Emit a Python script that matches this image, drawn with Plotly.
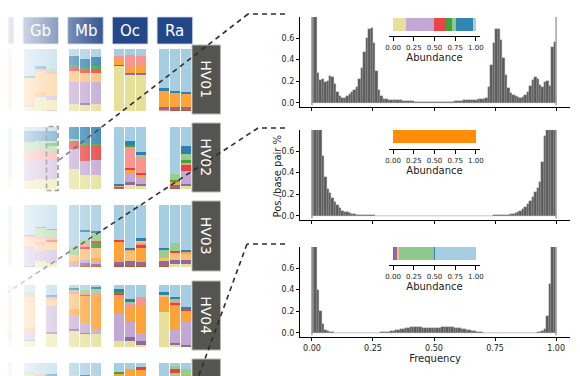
import plotly.graph_objects as go

# reference canvas size; the page adds an 8px body margin, so the figure is drawn
# 8px smaller and every layout pixel is shifted by that offset
W, H = 580, 376
OFF = 8
FW, FH = W - OFF, H - OFF

# ---------------- colours (category keys) ----------------
COLORS = {
    'LB': '#a6cee3', 'B': '#2f80b2', 'LG': '#98cd8c', 'G': '#3ea33a',
    'PK': '#f9948f', 'R': '#e8403f', 'LO': '#fdbe73', 'O': '#fda33a',
    'LV': '#c3a8d3', 'P': '#8e6b9f', 'Y': '#e6e09a', 'BR': '#b65a28',
}
INSET_COLORS = dict(COLORS, O='#ff8c0a', LG='#8fc88c', R='#e84646', B='#2f86b0')

GROUP_LABELS = ['', 'Gb', 'Mb', 'Oc', 'Ra']
ROW_LABELS = ['HV01', 'HV02', 'HV03', 'HV04', 'HV05']

# ---------------- stacked abundance bars (bottom -> top), 5 groups x 3 samples ----------------
HV01 = [
    [[('Y', .07), ('LV', .03), ('LO', .68), ('B', .02), ('LB', .20)],
     [('Y', .08), ('LV', .04), ('LO', .66), ('LB', .22)],
     [('Y', .06), ('LV', .05), ('LO', .64), ('PK', .02), ('LB', .23)]],
    [[('Y', .07), ('LV', .03), ('LO', .44), ('B', .02), ('LB', .44)],
     [('Y', .22), ('LV', .05), ('O', .03), ('LO', .35), ('PK', .04), ('B', .03), ('LB', .28)],
     [('PK', .02), ('Y', .16), ('LV', .06), ('LO', .36), ('PK', .03), ('LG', .04), ('LB', .33)]],
    [[('Y', .11), ('LV', .36), ('LO', .18), ('R', .06), ('G', .03), ('B', .15), ('LB', .11)],
     [('Y', .11), ('P', .02), ('LV', .33), ('LO', .16), ('R', .04), ('G', .04), ('B', .14), ('LB', .16)],
     [('Y', .11), ('LV', .35), ('LO', .16), ('R', .06), ('G', .05), ('B', .14), ('LB', .13)]],
    [[('Y', .73), ('BR', .02), ('O', .07), ('PK', .07), ('LB', .11)],
     [('Y', .59), ('P', .02), ('O', .10), ('PK', .20), ('LB', .09)],
     [('Y', .59), ('P', .02), ('O', .11), ('PK', .16), ('LB', .12)]],
    [[('PK', .02), ('P', .04), ('O', .27), ('B', .04), ('LB', .63)],
     [('BR', .02), ('P', .05), ('O', .22), ('B', .04), ('LB', .67)],
     [('BR', .02), ('P', .05), ('O', .20), ('B', .04), ('LB', .69)]],
]
HV02 = [
    [[('Y', .20), ('LV', .40), ('PK', .10), ('LG', .05), ('LB', .25)],
     [('Y', .18), ('LV', .42), ('PK', .08), ('LG', .06), ('LB', .26)],
     [('Y', .20), ('LV', .38), ('PK', .10), ('LG', .07), ('LB', .25)]],
    [[('Y', .12), ('LV', .33), ('PK', .13), ('LG', .16), ('B', .18), ('LB', .06)],
     [('Y', .16), ('LV', .33), ('PK', .15), ('LG', .14), ('B', .16), ('LB', .06)],
     [('Y', .16), ('LV', .32), ('PK', .14), ('LG', .08), ('G', .04), ('LG', .04), ('B', .16), ('LB', .06)]],
    [[('Y', .32), ('LV', .33), ('R', .12), ('LG', .04), ('B', .19)],
     [('Y', .22), ('LV', .23), ('R', .25), ('G', .04), ('B', .26)],
     [('Y', .22), ('LV', .24), ('R', .23), ('G', .04), ('B', .27)]],
    [[('P', .04), ('O', .02), ('B', .02), ('LB', .92)],
     [('Y', .07), ('P', .04), ('LV', .15), ('O', .04), ('R', .04), ('PK', .34), ('G', .03), ('B', .06), ('LB', .23)],
     [('Y', .05), ('P', .03), ('LV', .10), ('O', .04), ('R', .04), ('PK', .26), ('LG', .03), ('B', .04), ('LB', .41)]],
    [None,
     [('BR', .02), ('P', .05), ('O', .05), ('G', .03), ('LG', .10), ('LB', .75)],
     [('Y', .05), ('P', .03), ('LV', .21), ('R', .10), ('PK', .03), ('G', .05), ('LG', .10), ('B', .12), ('LB', .31)]],
]
HV03 = [
    [[('Y', .05), ('LV', .20), ('LO', .30), ('LB', .45)],
     [('Y', .06), ('LV', .18), ('LO', .30), ('PK', .02), ('LB', .44)],
     [('Y', .05), ('LV', .22), ('LO', .28), ('LB', .45)]],
    [[('P', .02), ('LV', .32), ('LO', .14), ('PK', .02), ('B', .02), ('LB', .48)],
     [('Y', .09), ('LV', .17), ('LO', .10), ('PK', .04), ('LO', .06), ('PK', .03), ('LG', .14), ('B', .02), ('LB', .35)],
     [('Y', .07), ('LV', .20), ('LO', .14), ('R', .03), ('PK', .04), ('LG', .12), ('B', .02), ('LB', .38)]],
    [[('LV', .06), ('O', .04), ('LO', .10), ('LG', .13), ('LB', .67)],
     [('BR', .02), ('P', .04), ('LV', .06), ('LO', .18), ('R', .03), ('PK', .04), ('LG', .06), ('LB', .15), ('B', .02), ('LB', .40)],
     [('BR', .02), ('P', .03), ('LV', .05), ('O', .04), ('LO', .16), ('G', .08), ('R', .04), ('LG', .14), ('B', .02), ('LB', .42)]],
    [[('BR', .03), ('P', .05), ('O', .33), ('R', .02), ('LB', .57)],
     [('BR', .02), ('P', .07), ('LO', .18), ('O', .02), ('B', .02), ('LB', .69)],
     [('BR', .02), ('P', .06), ('O', .23), ('R', .04), ('PK', .05), ('LO', .03), ('B', .03), ('LB', .54)]],
    [[('BR', .02), ('P', .07), ('LO', .05), ('LG', .14), ('B', .02), ('LB', .70)],
     [('Y', .05), ('P', .06), ('LO', .12), ('R', .03), ('LG', .12), ('LB', .62)],
     [('Y', .05), ('P', .07), ('LO', .10), ('O', .03), ('B', .03), ('LB', .72)]],
]
HV04 = [
    [[('Y', .10), ('LV', .15), ('LO', .60), ('LB', .15)],
     [('Y', .08), ('LV', .17), ('LO', .58), ('LB', .17)],
     [('Y', .10), ('LV', .14), ('LO', .60), ('LB', .16)]],
    [[('Y', .10), ('P', .02), ('LV', .15), ('O', .03), ('LO', .52), ('PK', .02), ('LG', .04), ('LB', .12)],
     None,
     [('Y', .22), ('P', .02), ('LV', .42), ('LO', .13), ('PK', .02), ('B', .03), ('LB', .16)]],
    [[('Y', .27), ('P', .02), ('LV', .22), ('O', .11), ('LO', .24), ('PK', .03), ('LG', .03), ('B', .03), ('LB', .05)],
     [('Y', .21), ('P', .02), ('LV', .16), ('O', .44), ('R', .02), ('PK', .02), ('LG', .05), ('LB', .08)],
     [('Y', .21), ('LV', .08), ('O', .54), ('PK', .03), ('LG', .08), ('B', .02), ('LB', .04)]],
    [[('Y', .10), ('LV', .44), ('O', .28), ('PK', .02), ('R', .02), ('G', .04), ('B', .03), ('LB', .07)],
     [('Y', .09), ('P', .07), ('LV', .24), ('O', .24), ('PK', .06), ('LG', .03), ('B', .04), ('LB', .23)],
     [('Y', .03), ('P', .06), ('LV', .13), ('O', .46), ('PK', .13), ('LB', .19)]],
    [[('Y', .56), ('O', .25), ('LO', .03), ('B', .04), ('LB', .12)],
     [('Y', .04), ('P', .02), ('LV', .21), ('O', .42), ('R', .03), ('PK', .03), ('LG', .03), ('B', .02), ('LB', .20)],
     [('P', .03), ('LV', .37), ('O', .19), ('R', .02), ('B', .04), ('LB', .35)]],
]
HV05 = [
    [[('Y', .30), ('LV', .30), ('LO', .20), ('LB', .20)],
     [('Y', .30), ('LV', .30), ('LO', .20), ('LB', .20)],
     [('Y', .30), ('LV', .30), ('LO', .20), ('LB', .20)]],
    [[('Y', .30), ('LV', .30), ('LO', .20), ('LG', .06), ('LB', .14)],
     [('Y', .30), ('LV', .30), ('LO', .20), ('PK', .03), ('LB', .17)],
     [('Y', .30), ('LV', .30), ('LO', .20), ('B', .03), ('LB', .17)]],
    [[('Y', .30), ('LV', .30), ('LO', .20), ('LB', .20)],
     [('Y', .30), ('LV', .30), ('LO', .18), ('B', .02), ('LB', .20)],
     [('Y', .30), ('LV', .30), ('LO', .20), ('LB', .20)]],
    [[('Y', .30), ('LV', .20), ('O', .33), ('G', .03), ('LB', .14)],
     [('Y', .30), ('LV', .20), ('O', .40), ('LB', .10)],
     [('Y', .30), ('LV', .20), ('O', .40), ('R', .03), ('LB', .07)]],
    [[('Y', .30), ('LV', .20), ('O', .20), ('B', .03), ('LB', .27)],
     [('Y', .30), ('LV', .20), ('O', .20), ('LG', .05), ('R', .07), ('LG', .04), ('LB', .04)],
     [('Y', .30), ('LV', .30), ('O', .20), ('LG', .10), ('LB', .10)]],
]
ROW_DATA = [HV01, HV02, HV03, HV04, HV05]

# ---------------- allele-frequency histograms (100 bins on [0,1]) ----------------
HV01_FREQ = [0.95, 0.90, 0.28, 0.21, 0.22, 0.19, 0.20, 0.25, 0.24, 0.18,
             0.10, 0.06, 0.05, 0.05, 0.06, 0.08, 0.10, 0.12, 0.15, 0.22,
             0.32, 0.47, 0.60, 0.68, 0.69, 0.55, 0.30, 0.12, 0.06, 0.04,
             0.035, 0.03, 0.03, 0.03, 0.03, 0.028, 0.025, 0.022, 0.02, 0.02,
             0.018, 0.015, 0.012, 0.01, 0.01, 0.008, 0.007, 0.006, 0.005, 0.005,
             0.005, 0.005, 0.006, 0.007, 0.008, 0.01, 0.01, 0.012, 0.015, 0.018,
             0.02, 0.022, 0.025, 0.025, 0.028, 0.03, 0.03, 0.03, 0.035, 0.04,
             0.04, 0.05, 0.15, 0.35, 0.55, 0.68, 0.68, 0.58, 0.42, 0.26,
             0.14, 0.09, 0.07, 0.06, 0.055, 0.05, 0.055, 0.07, 0.10, 0.16,
             0.21, 0.24, 0.22, 0.17, 0.15, 0.19, 0.20, 0.16, 0.52, 0.56]
HV02_FREQ = [0.95, 0.95, 0.95, 0.90, 0.55, 0.36, 0.25, 0.21, 0.17, 0.13,
             0.10, 0.07, 0.05, 0.04, 0.035, 0.025, 0.02, 0.015, 0.012, 0.01,
             0.01, 0.008, 0.007, 0.006, 0.005, 0.005, 0.004, 0.004, 0.003, 0.003,
             0.002, 0.002, 0.002, 0.002, 0.002, 0.002, 0.002, 0.002, 0.002, 0.002,
             0.002, 0.002, 0.001, 0.002, 0.002, 0.001, 0.002, 0.002, 0.001, 0.002,
             0.002, 0.001, 0.002, 0.002, 0.001, 0.002, 0.002, 0.002, 0.002, 0.002,
             0.002, 0.002, 0.002, 0.002, 0.002, 0.002, 0.002, 0.002, 0.003, 0.003,
             0.003, 0.003, 0.004, 0.004, 0.005, 0.005, 0.006, 0.007, 0.008, 0.01,
             0.012, 0.015, 0.02, 0.025, 0.035, 0.05, 0.065, 0.08, 0.11, 0.14,
             0.18, 0.22, 0.26, 0.31, 0.50, 0.74, 0.95, 0.95, 0.95, 0.95]
HV04_FREQ = [0.95, 0.90, 0.40, 0.20, 0.08, 0.03, 0.015, 0.01, 0.006, 0.004,
             0.003, 0.003, 0.003, 0.003, 0.003, 0.003, 0.003, 0.003, 0.003, 0.003,
             0.003, 0.003, 0.003, 0.003, 0.003, 0.003, 0.003, 0.004, 0.006, 0.008,
             0.01, 0.013, 0.016, 0.02, 0.025, 0.03, 0.035, 0.04, 0.045, 0.05,
             0.052, 0.055, 0.055, 0.053, 0.055, 0.05, 0.05, 0.048, 0.05, 0.046,
             0.044, 0.046, 0.05, 0.052, 0.055, 0.052, 0.055, 0.055, 0.05, 0.05,
             0.046, 0.04, 0.035, 0.03, 0.025, 0.02, 0.015, 0.012, 0.008, 0.005,
             0.003, 0.003, 0.003, 0.003, 0.003, 0.003, 0.003, 0.003, 0.003, 0.003,
             0.003, 0.003, 0.003, 0.003, 0.003, 0.003, 0.003, 0.003, 0.003, 0.003,
             0.003, 0.004, 0.005, 0.01, 0.02, 0.04, 0.16, 0.45, 0.95, 0.95]
FREQ_BIN_WIDTH = 0.01
FREQ_TICKS = [0, 0.25, 0.5, 0.75, 1.0]
PCT_TICKS = [0.0, 0.2, 0.4, 0.6]

# ---------------- inset abundance bars ----------------
HV01_ABUND = [('Y', .155), ('LV', .343), ('R', .139), ('G', .069), ('LG', .049), ('B', .216), ('LB', .029)]
HV02_ABUND = [('O', 1.0)]
HV04_ABUND = [('BR', .012), ('P', .037), ('LO', .025), ('LG', .42), ('B', .016), ('LB', .49)]
ABUND_TICKS = [0, 0.25, 0.5, 0.75, 1.0]

# ---------------- layout geometry (reference pixels) ----------------
FONT = 'DejaVu Sans'
GRID_R = 192
GROUP_LEFT0, GROUP_STEP = 23 - 44.7, 44.7
ROW_TOPS = [49, 127, 205, 285, 363]
ROW_H = 62
BOX_SPANS = [(45, 114), (123, 192), (201, 271), (281, 350), (359, 420)]
HIST_TOPS = [17, 130, 247]
HIST_H = 90
INSET_SPANS = [(18, 36), (130, 149), (247, 265)]


def px_x(x):
    return (x - OFF) / FW


def px_y(y):
    return 1 - (y - OFF) / FH


def ydom(top, bottom):
    return [max(0.0, px_y(bottom)), min(1.0, px_y(top))]


def xdom(left, right):
    return [max(0.0, px_x(left)), min(1.0, px_x(right))]


fig = go.Figure()
layout = dict(width=FW, height=FH, margin=dict(l=0, r=0, t=0, b=0, autoexpand=False),
              paper_bgcolor='white', plot_bgcolor='rgba(0,0,0,0)',
              showlegend=False, barmode='overlay', bargap=0,
              font=dict(family=FONT, color='#222'))

# left grid x axis (1 unit = 1 reference px)
layout['xaxis'] = dict(domain=xdom(OFF, GRID_R), range=[OFF, GRID_R], visible=False, fixedrange=True)

for r, rowdata in enumerate(ROW_DATA):
    ykey = 'yaxis' if r == 0 else f'yaxis{r + 1}'
    yref = 'y' if r == 0 else f'y{r + 1}'
    top = ROW_TOPS[r]
    bottom = top + ROW_H
    vis_bottom = min(bottom, H)
    layout[ykey] = dict(domain=ydom(top, vis_bottom),
                        range=[(bottom - vis_bottom) / ROW_H, 1], visible=False,
                        anchor='x', fixedrange=True)
    xs, bases, hs, cols = [], [], [], []
    for g, group in enumerate(rowdata):
        left = GROUP_LEFT0 + g * GROUP_STEP
        for b, bar in enumerate(group):
            if bar is None:
                continue
            total = sum(f for _, f in bar)
            cum = 0.0
            for key, f in bar:
                xs.append(left + 6.5 + 11 * b)
                bases.append(cum / total)
                hs.append(f / total)
                cols.append(COLORS[key])
                cum += f
    fig.add_trace(go.Bar(x=xs, y=hs, base=bases, width=10.2,
                         marker=dict(color=cols, line=dict(width=0)),
                         xaxis='x', yaxis=yref, hoverinfo='skip'))

# histograms
bin_centers = [(i + 0.5) * FREQ_BIN_WIDTH for i in range(len(HV01_FREQ))]
for p, freq in enumerate([HV01_FREQ, HV02_FREQ, HV04_FREQ]):
    xk, yk = f'xaxis{p + 2}', f'yaxis{p + 6}'
    xr, yr = f'x{p + 2}', f'y{p + 6}'
    top = HIST_TOPS[p]
    layout[xk] = dict(domain=xdom(300, 570), range=[-0.049, 1.057], anchor=yr,
                      showline=True, linecolor='black', linewidth=1.2,
                      ticks='outside', ticklen=3, tickwidth=1.2, tickcolor='black',
                      tickvals=FREQ_TICKS, ticktext=[f'{v:.2f}' for v in FREQ_TICKS],
                      showticklabels=(p == 2), tickfont=dict(size=8, color='#222'),
                      showgrid=False, zeroline=False, fixedrange=True)
    if p == 2:
        layout[xk]['title'] = dict(text='Frequency', font=dict(size=10, color='#222'), standoff=3)
    layout[yk] = dict(domain=ydom(top, top + HIST_H), range=[-0.037, 0.794], anchor=xr,
                      showline=True, linecolor='black', linewidth=1.2,
                      ticks='outside', ticklen=3, tickwidth=1.2, tickcolor='black',
                      tickvals=PCT_TICKS, ticktext=[f'{v:.1f}' for v in PCT_TICKS],
                      tickfont=dict(size=8, color='#222'),
                      showgrid=False, zeroline=False, fixedrange=True)
    fig.add_trace(go.Bar(x=bin_centers, y=freq, width=FREQ_BIN_WIDTH,
                         marker=dict(color='#5a5a5a', line=dict(width=0.35, color='#a0a0a0')),
                         xaxis=xr, yaxis=yr, hoverinfo='skip'))

# insets
for p, ab in enumerate([HV01_ABUND, HV02_ABUND, HV04_ABUND]):
    xk, yk = f'xaxis{p + 5}', f'yaxis{p + 9}'
    xr, yr = f'x{p + 5}', f'y{p + 9}'
    t, a = INSET_SPANS[p]
    layout[xk] = dict(domain=xdom(389, 480), range=[-0.05, 1.05], anchor=yr,
                      showline=True, linecolor='black', linewidth=1.3,
                      ticks='outside', ticklen=4, tickwidth=1.3, tickcolor='black',
                      tickvals=ABUND_TICKS, ticktext=[f'{v:.2f}' for v in ABUND_TICKS],
                      tickfont=dict(size=7, color='#222'),
                      title=dict(text='Abundance', font=dict(size=10, color='#222'), standoff=1),
                      showgrid=False, zeroline=False, fixedrange=True)
    layout[yk] = dict(domain=ydom(t, a), range=[-0.5 - (a - t - 13) / 13, 0.5], anchor=xr,
                      visible=False, fixedrange=True)
    xs, bases, cols = [], [], []
    cum = 0.0
    for key, f in ab:
        xs.append(f)
        bases.append(cum)
        cols.append(INSET_COLORS[key])
        cum += f
    fig.add_trace(go.Bar(x=xs, y=[0] * len(xs), base=bases, orientation='h', width=1,
                         marker=dict(color=cols, line=dict(width=0)),
                         xaxis=xr, yaxis=yr, hoverinfo='skip'))

shapes = []
annotations = []

# vertical reference lines at frequency 0 and 1
for p in range(3):
    for xv in (0, 1):
        shapes.append(dict(type='line', xref=f'x{p + 2}', yref=f'y{p + 6} domain',
                           x0=xv, x1=xv, y0=0.02, y1=1, layer='above',
                           line=dict(color='#a0a0a0', width=1.5)))

# column headers
for g, lab in enumerate(GROUP_LABELS):
    left = GROUP_LEFT0 + g * GROUP_STEP
    x0, x1 = max(OFF, left), left + 35.5
    shapes.append(dict(type='rect', xref='paper', yref='paper',
                       x0=px_x(x0), x1=px_x(x1), y0=px_y(44), y1=px_y(17),
                       fillcolor='#23488a', line=dict(color='#cfd6e4', width=0.8), layer='above'))
    if lab:
        annotations.append(dict(text=lab, xref='paper', yref='paper', x=px_x(left + 17.8), y=px_y(31),
                                xanchor='center', yanchor='middle',
                                showarrow=False, font=dict(size=15, color='white', family=FONT)))

# row label boxes
for r, lab in enumerate(ROW_LABELS):
    t, b = BOX_SPANS[r]
    shapes.append(dict(type='rect', xref='paper', yref='paper',
                       x0=px_x(192), x1=px_x(220.5), y0=px_y(min(b, H + 2)), y1=px_y(t),
                       fillcolor='#545450', line=dict(color='#b8b8b4', width=1), layer='above'))
    if b <= H:
        annotations.append(dict(text=lab, xref='paper', yref='paper', x=px_x(206.3), y=px_y((t + b) / 2),
                                xanchor='center', yanchor='middle',
                                textangle=90, showarrow=False,
                                font=dict(size=14, color='white', family=FONT)))

# y title
annotations.append(dict(text='Pos./base pair %', xref='paper', yref='paper', x=px_x(276.5), y=px_y(176),
                        xanchor='center', yanchor='middle',
                        textangle=-90, showarrow=False, font=dict(size=10, color='#222', family=FONT)))

# dashed highlight rectangle and connector lines
DASH = dict(color='#2e2e2e', width=1.6, dash='5px,4px')
shapes.append(dict(type='rect', xref='paper', yref='paper', x0=px_x(46.5), x1=px_x(58),
                   y0=px_y(190.5), y1=px_y(126.5), line=dict(color='#3a3a3a', width=1.6, dash='5px,3px'),
                   fillcolor='rgba(0,0,0,0)', layer='above'))
connectors = [
    [(285, 14), (248, 14), (59, 160)],
    [(285, 128), (258, 128), (2, 296)],
    [(285, 244), (247, 244), (198, 378)],
]
for pts in connectors:
    for (xa, ya), (xb, yb) in zip(pts[:-1], pts[1:]):
        shapes.append(dict(type='line', xref='paper', yref='paper',
                           x0=px_x(xa), y0=px_y(ya), x1=px_x(xb), y1=px_y(yb),
                           line=DASH, layer='above'))

# left-to-right white fade over the grid
step = 2
for x0 in range(OFF, 114, step):
    vis = min(1.0, (x0 + step / 2 + 4) / 118)
    alpha = 1 - vis
    if alpha <= 0:
        continue
    shapes.append(dict(type='rect', xref='paper', yref='paper',
                       x0=px_x(x0), x1=px_x(x0 + step), y0=0, y1=1,
                       fillcolor=f'rgba(255,255,255,{alpha:.3f})', line=dict(width=0), layer='above'))

layout['shapes'] = shapes
layout['annotations'] = annotations
fig.update_layout(**layout)
fig.write_html('out.html')
